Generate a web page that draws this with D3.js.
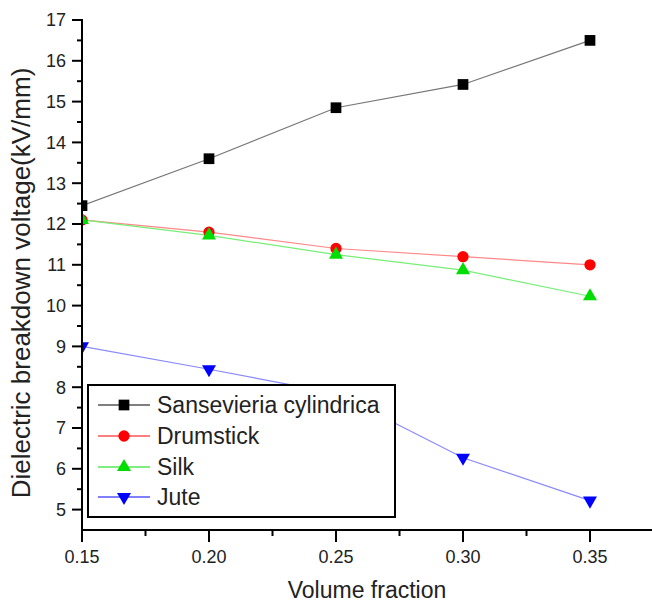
<!DOCTYPE html>
<html>
<head>
<meta charset="utf-8">
<script src="https://cdn.jsdelivr.net/npm/d3@7"></script>
<style>
  body { margin: 0; background: #fff; }
  svg { display: block; font-family: Arial, "Liberation Sans", sans-serif; }
</style>
</head>
<body>
<svg id="chart" width="652" height="604"></svg>
<script>
// data
const fractions = [0.15, 0.20, 0.25, 0.30, 0.35]
const sansevieria = [12.45, 13.6, 14.85, 15.42, 16.5]
const drumstick = [12.1, 11.8, 11.4, 11.2, 11.0]
const silk = [12.1, 11.72, 11.25, 10.87, 10.23]
const jute = [9.0, 8.44, 7.85, 6.27, 5.22]
const xTicks = [0.15, 0.20, 0.25, 0.30, 0.35]
const yTicks = [5, 6, 7, 8, 9, 10, 11, 12, 13, 14, 15, 16, 17]

const series = [
  { name: 'Sansevieria cylindrica', values: sansevieria, color: '#000', line: '#777', symbol: d3.symbolSquare, size: 115 },
  { name: 'Drumstick', values: drumstick, color: '#f00', line: '#f88', symbol: d3.symbolCircle, size: 100 },
  { name: 'Silk', values: silk, color: '#0d0', line: '#7e7', symbol: d3.symbolTriangle, size: 85 },
  { name: 'Jute', values: jute, color: '#00f', line: '#88f', symbol: d3.symbolTriangle, size: 85, flip: true }
]

const svg = d3.select('#chart')
const M = { left: 82, bottom: 530, right: 652 }

const x = d3.scaleLinear().domain([0.15, 0.15 + (M.right - M.left) / 2540]).range([M.left, M.right])
const y = d3.scaleLinear().domain([4.5, 17]).range([M.bottom, M.bottom - 12.5 * 40.8])

svg.append('clipPath').attr('id', 'plot')
  .append('rect').attr('x', M.left).attr('y', 0).attr('width', M.right - M.left).attr('height', M.bottom)

// series lines + markers
const line = d3.line().x((d, i) => x(fractions[i])).y(d => y(d))
const plot = svg.append('g').attr('clip-path', 'url(#plot)')
series.forEach(s => {
  plot.append('path').attr('d', line(s.values))
    .attr('fill', 'none').attr('stroke', s.line).attr('stroke-width', 1.2)
})
series.forEach(s => {
  plot.selectAll(null).data(s.values).join('path')
    .attr('d', d3.symbol(s.symbol, s.size))
    .attr('transform', (d, i) => 'translate(' + x(fractions[i]) + ',' + y(d) + ')' + (s.flip ? ' rotate(180)' : ''))
    .attr('fill', s.color)
})

// axes
const yAxis = svg.append('g').attr('stroke', '#000').attr('stroke-width', 2)
yAxis.append('line').attr('x1', M.left).attr('x2', M.left).attr('y1', y(17) - 1).attr('y2', M.bottom + 1)
d3.range(5, 17.01, 0.5).forEach(v => {
  const major = Number.isInteger(v)
  yAxis.append('line').attr('x1', M.left - (major ? 10 : 5)).attr('x2', M.left)
    .attr('y1', y(v)).attr('y2', y(v))
})

svg.append('g').attr('font-size', 18).attr('fill', '#222').attr('text-anchor', 'end')
  .selectAll('text').data(yTicks).join('text')
  .attr('x', M.left - 16).attr('y', d => y(d)).attr('dy', '0.36em').text(d => d)

const xAxis = svg.append('g').attr('stroke', '#000').attr('stroke-width', 2)
xAxis.append('line').attr('x1', M.left - 1).attr('x2', M.right).attr('y1', M.bottom).attr('y2', M.bottom)
d3.range(0.15, 0.376, 0.025).forEach(v => {
  const major = Math.abs(Math.round(v / 0.05) * 0.05 - v) < 1e-6
  xAxis.append('line').attr('x1', x(v)).attr('x2', x(v))
    .attr('y1', M.bottom).attr('y2', M.bottom + (major ? 12 : 6))
})

svg.append('g').attr('font-size', 18).attr('fill', '#222').attr('text-anchor', 'middle')
  .selectAll('text').data(xTicks).join('text')
  .attr('x', d => x(d)).attr('y', 563).text(d3.format('.2f'))

svg.append('text').attr('x', 367).attr('y', 598).attr('text-anchor', 'middle')
  .attr('font-size', 23).attr('fill', '#222').text('Volume fraction')

svg.append('text').attr('transform', 'translate(30,283) rotate(-90)').attr('text-anchor', 'middle')
  .attr('font-size', 26).attr('fill', '#222').text('Dielectric breakdown voltage(kV/mm)')

// legend
const legend = svg.append('g')
legend.append('rect').attr('x', 88).attr('y', 385).attr('width', 307).attr('height', 132)
  .attr('fill', '#fff').attr('stroke', '#000').attr('stroke-width', 2)
const rows = [405, 436, 467, 497]
series.forEach((s, i) => {
  const g = legend.append('g').attr('transform', 'translate(0,' + rows[i] + ')')
  g.append('line').attr('x1', 98).attr('x2', 150).attr('stroke', s.color).attr('stroke-width', 1)
  g.append('path').attr('d', d3.symbol(s.symbol, s.size))
    .attr('transform', 'translate(124,0)' + (s.flip ? ' rotate(180)' : '')).attr('fill', s.color)
  g.append('text').attr('x', 157).attr('dy', '0.36em').attr('font-size', 23).attr('fill', '#222').text(s.name)
})
</script>
</body>
</html>
